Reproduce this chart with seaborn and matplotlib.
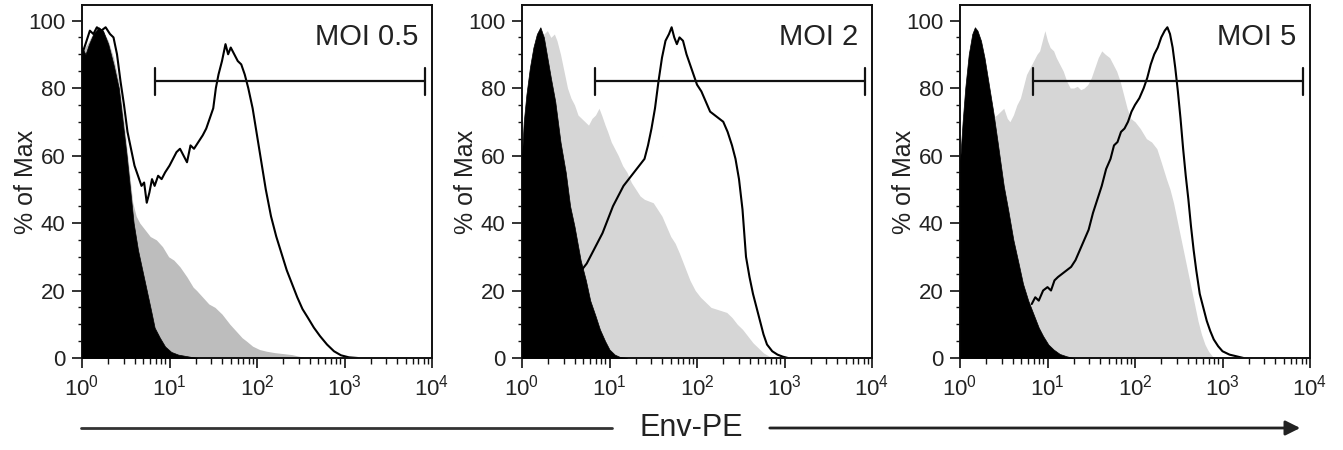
import numpy as np
import matplotlib
matplotlib.use("Agg")
import matplotlib.pyplot as plt
from matplotlib.ticker import LogLocator, MultipleLocator, NullFormatter
import seaborn as sns

# ---- data (x in log10 of Env-PE, y in % of Max) ----
panel_labels = ["MOI 0.5", "MOI 2", "MOI 5"]

# MOI 0.5
neg05_lg = [0, 0.04, 0.08, 0.13, 0.19, 0.24, 0.3, 0.36, 0.42, 0.47, 0.51, 0.55, 0.59, 0.64, 0.69, 0.74,
            0.79, 0.83, 0.89, 0.95, 1.02, 1.1, 1.23, 1.32]
neg05_y = [92, 90, 93, 96, 98, 97, 93, 87, 80, 69, 60, 50, 40, 32, 26, 20, 14, 9, 6, 3.4, 1.8, 1.0, 0.4, 0]
grey05_lg = [0, .06, .12, .18, .24, .3, .36, .42, .48, .53, .58, .62, .66, .72, .78, .85, .92, .99, 1.05, 1.12,
             1.2, 1.27, 1.31, 1.38, 1.45, 1.52, 1.6, 1.69, 1.76, 1.83, 1.88, 1.95, 2.03, 2.11, 2.2, 2.3, 2.4, 2.5, 2.56]
grey05_y = [91, 93, 96, 97, 97, 94, 89, 82, 70, 58, 46, 42, 40, 38, 36, 35, 33, 30, 29, 27,
            24, 21, 20, 18, 16, 15, 13, 10, 8, 6, 5, 3.5, 2.5, 2, 1.6, 1.3, 1.0, 0.4, 0]
line05_lg = [0, .04, .09, .13, .17, .22, .27, .32, .36, .40, .44, .48, .52, .56, .6, .64, .68, .71, .74, .77,
             .8, .83, .87, .91, .95, 1.0, 1.04, 1.08, 1.12, 1.16, 1.2, 1.24, 1.28, 1.33, 1.38, 1.42, 1.46, 1.5, 1.53, 1.56,
             1.6, 1.64, 1.67, 1.7, 1.74, 1.78, 1.82, 1.86, 1.9, 1.95, 2.0, 2.05, 2.1, 2.16, 2.22, 2.28, 2.34, 2.4, 2.46, 2.52,
             2.58, 2.65, 2.72, 2.8, 2.88, 2.96, 3.05, 3.15]
line05_y = [90, 93, 97, 96, 98, 97, 98, 96, 95, 90, 82, 75, 67, 62, 57, 54, 51, 52, 46, 49,
            53, 51, 54, 53, 55, 57, 59, 61, 62, 60, 58, 63, 62, 64, 66, 68, 71, 74, 80, 84,
            88, 93, 90, 92, 90, 88, 87, 84, 80, 74, 66, 58, 50, 42, 36, 31, 26, 22, 18, 14.5,
            12, 9, 6.5, 4, 2, 0.8, 0.2, 0]

# MOI 2
neg2_lg = [0, .02, .05, .09, .13, .17, .21, .25, .29, .33, .38, .44, .5, .55, .6, .67, .73, .78, .84, .89,
           .95, 1.0, 1.06, 1.12, 1.2]
neg2_y = [60, 70, 78, 86, 92, 96, 98, 95, 89, 83, 76, 64, 55, 45, 39, 29, 23, 17, 12.5, 8.5, 5, 2.5, 1, 0.3, 0]
grey2_lg = [0, .05, .1, .15, .2, .25, .29, .33, .37, .4, .44, .48, .52, .56, .6, .64, .68, .72, .76, .8,
            .84, .88, .91, .95, .98, 1.02, 1.06, 1.1, 1.15, 1.2, 1.25, 1.3, 1.35, 1.4, 1.45, 1.5, 1.55, 1.6, 1.65, 1.7,
            1.75, 1.8, 1.86, 1.92, 1.98, 2.04, 2.1, 2.16, 2.22, 2.28, 2.34, 2.4, 2.46, 2.52, 2.58, 2.64, 2.7, 2.76, 2.82, 2.88]
grey2_y = [62, 75, 85, 91, 94, 96, 97, 95, 96, 94, 90, 85, 80, 77, 75, 72, 71, 70, 69, 71,
           72, 74, 72, 69, 67, 64, 62, 60, 57, 55, 52, 50, 48, 47, 46.5, 46, 44, 42, 39, 36,
           34, 31, 27, 23, 20, 18, 16.5, 15, 14.5, 14, 13.5, 12, 10, 8.5, 6.5, 4.5, 3, 1.5, 0.6, 0]
line2_lg = [.68, .74, .8, .86, .92, .98, 1.04, 1.1, 1.16, 1.22, 1.28, 1.34, 1.4, 1.44, 1.48, 1.52, 1.56, 1.6, 1.64, 1.68,
            1.71, 1.74, 1.77, 1.8, 1.84, 1.88, 1.92, 1.96, 2.0, 2.05, 2.1, 2.15, 2.2, 2.25, 2.3, 2.35, 2.4, 2.44, 2.48, 2.52,
            2.56, 2.6, 2.64, 2.68, 2.72, 2.76, 2.8, 2.86, 2.92, 2.98, 3.04]
line2_y = [26, 28, 31, 34, 37, 41, 45, 48, 51, 53, 55, 57, 59, 63, 68, 74, 82, 89, 94, 96,
           98, 95, 93, 95, 94, 90, 87, 84, 81, 79, 76, 73, 72, 71, 70, 67, 63, 59, 53, 44,
           30, 24, 19, 15, 11, 7, 4, 2, 1, 0.4, 0]

# MOI 5
neg5_lg = [0, .03, .06, .1, .14, .17, .2, .24, .28, .33, .38, .43, .5, .55, .61, .67, .72, .78, .84, .9,
           .95, 1.01, 1.07, 1.14, 1.22, 1.3]
neg5_y = [58, 70, 80, 90, 96, 98, 97, 94, 89, 81, 73, 64, 51, 44, 35, 28, 22, 17, 13, 9, 6.5, 4, 2.5, 1.2, 0.5, 0]
grey5_lg = [0, .1, .2, .3, .36, .42, .46, .5, .54, .57, .61, .65, .69, .72, .76, .8, .84, .88, .91, .94,
            .97, 1.0, 1.03, 1.07, 1.1, 1.14, 1.18, 1.22, 1.26, 1.3, 1.34, 1.38, 1.42, 1.46, 1.5, 1.54, 1.58, 1.62, 1.66, 1.71,
            1.75, 1.79, 1.83, 1.87, 1.91, 1.95, 2.0, 2.06, 2.13, 2.19, 2.25, 2.3, 2.36, 2.4, 2.44, 2.48, 2.52, 2.56, 2.6, 2.64,
            2.68, 2.72, 2.76, 2.8, 2.84, 2.9]
grey5_y = [55, 62, 66, 69, 71, 72, 73, 74, 71, 70, 72, 75, 77, 80, 84, 86, 88, 90, 91, 94,
           97, 94, 92, 91, 89, 87, 85, 82, 80, 80, 80.5, 79.5, 80, 81, 83, 86, 89, 91, 90, 89,
           87, 85, 82, 78, 74, 71, 70, 68, 65, 64, 62, 58, 53, 50, 46, 41, 36, 31, 26, 21,
           16, 11, 7, 4, 2, 0]
line5_lg = [.82, .86, .9, .95, 1.0, 1.04, 1.08, 1.12, 1.17, 1.22, 1.27, 1.32, 1.37, 1.42, 1.47, 1.52, 1.57, 1.62, 1.67, 1.72,
            1.76, 1.8, 1.84, 1.88, 1.92, 1.96, 2.0, 2.05, 2.1, 2.14, 2.18, 2.22, 2.26, 2.3, 2.34, 2.37, 2.4, 2.43, 2.46, 2.49,
            2.52, 2.55, 2.58, 2.61, 2.64, 2.67, 2.7, 2.74, 2.78, 2.82, 2.86, 2.9, 2.95, 3.0, 3.08, 3.16, 3.24]
line5_y = [16, 18, 17, 20, 21, 20, 23, 24, 25, 26, 27, 29, 32, 35, 38, 43, 47, 51, 56, 59,
           63, 64, 67, 68, 70, 73, 75, 77, 80, 83, 87, 90, 92, 95, 97, 98, 96, 92, 86, 79,
           71, 62, 54, 47, 39, 32, 26, 19, 15, 11, 8, 5.5, 3.5, 2, 1, 0.5, 0]

# gate marker (Env-PE positive), same in all panels
gate_lo = 6.8
gate_hi = 8300
gate_y = 82

grey_colors = ["#bdbdbd", "#d6d6d6", "#d6d6d6"]

panels = [
    (neg05_lg, neg05_y, grey05_lg, grey05_y, line05_lg, line05_y),
    (neg2_lg, neg2_y, grey2_lg, grey2_y, line2_lg, line2_y),
    (neg5_lg, neg5_y, grey5_lg, grey5_y, line5_lg, line5_y),
]

# ---- style ----
sns.set_style("ticks")
plt.rcParams['font.family'] = ['Liberation Sans', 'DejaVu Sans']
plt.rcParams['mathtext.fontset'] = 'custom'
plt.rcParams['mathtext.rm'] = 'Liberation Sans'
plt.rcParams['mathtext.it'] = 'Liberation Sans:italic'
plt.rcParams['mathtext.bf'] = 'Liberation Sans:bold'
text_col = "#222222"

fig = plt.figure(figsize=(13.43, 4.5), dpi=100)
lefts = [82, 522, 960]

for i, (nlg, ny, glg, gy, llg, ly) in enumerate(panels):
    ax = fig.add_axes([lefts[i] / 1343, 92 / 450, 350 / 1343, 353 / 450])
    ax.set_xscale('log')

    gx = np.power(10.0, glg)
    ax.fill_between(gx, gy, 0, color=grey_colors[i], lw=0, zorder=1)

    lx = np.power(10.0, llg)
    sns.lineplot(x=lx, y=ly, ax=ax, color='black', lw=1.5, sort=False, estimator=None, zorder=2)

    nx = np.power(10.0, nlg)
    ax.fill_between(nx, ny, 0, color='black', lw=0.5, edgecolor='black', zorder=3)

    # gate bar
    ax.plot([gate_lo, gate_hi], [gate_y, gate_y], color='#111111', lw=1.6, zorder=4)
    ax.plot([gate_lo, gate_lo], [gate_y - 4, gate_y + 4], color='#111111', lw=1.6, zorder=4)
    ax.plot([gate_hi, gate_hi], [gate_y - 4, gate_y + 4], color='#111111', lw=1.6, zorder=4)

    ax.text(0.96, 0.95, panel_labels[i], transform=ax.transAxes, ha='right', va='top',
            fontsize=21, color=text_col)

    ax.set_xlim(1, 1e4)
    ax.set_ylim(0, 104.6)
    ax.xaxis.set_major_locator(LogLocator(base=10, numticks=10))
    ax.xaxis.set_minor_locator(LogLocator(base=10, subs=np.arange(2, 10), numticks=20))
    ax.xaxis.set_minor_formatter(NullFormatter())
    ax.yaxis.set_major_locator(MultipleLocator(20))
    ax.yaxis.set_minor_locator(MultipleLocator(5))

    ax.tick_params(axis='x', which='major', length=7, width=1.2, labelsize=16, pad=5, colors='#111111',
                   labelcolor=text_col)
    ax.tick_params(axis='x', which='minor', length=4.5, width=1.0, colors='#111111')
    ax.tick_params(axis='y', which='major', length=7, width=1.2, labelsize=16, pad=5, colors='#111111',
                   labelcolor=text_col)
    ax.tick_params(axis='y', which='minor', length=3, width=1.0, colors='#111111')

    for side in ['left', 'bottom', 'top', 'right']:
        ax.spines[side].set_visible(True)
        ax.spines[side].set_linewidth(1.4)
        ax.spines[side].set_color('#111111')

    ax.set_ylabel("% of Max", fontsize=18, color=text_col)
    ax.yaxis.set_label_coords(-0.125, 0.5)
    ax.set_xlabel("")

# bottom axis caption with arrow
y_arrow = 1 - 428 / 450
fig.add_artist(plt.Line2D([81 / 1343, 612 / 1343], [y_arrow, y_arrow], color='#333333', lw=2))
fig.text(691 / 1343, y_arrow, "Env-PE", ha='center', va='center', fontsize=22, color=text_col)
fig.add_artist(matplotlib.patches.FancyArrowPatch((767 / 1343, y_arrow), (1303 / 1343, y_arrow),
                                                  transform=fig.transFigure, arrowstyle='-|>',
                                                  mutation_scale=22, lw=2, color='#222222'))

fig.savefig("out.png", dpi=100)
